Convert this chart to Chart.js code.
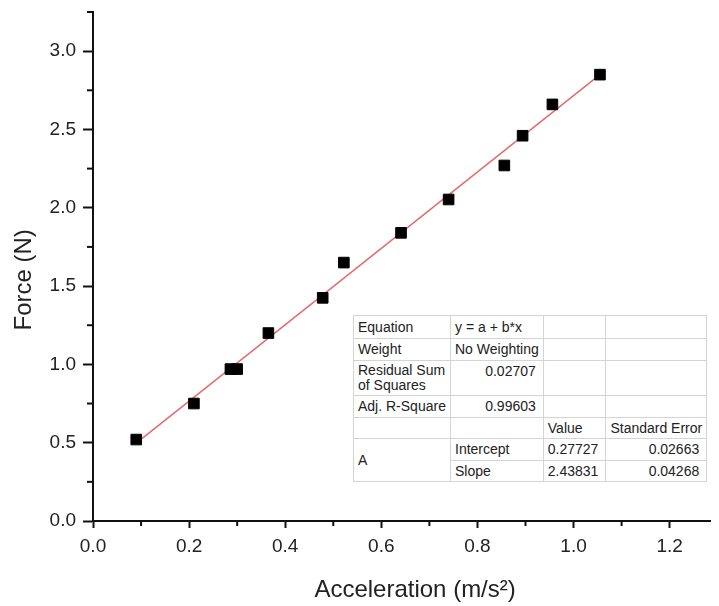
<!DOCTYPE html>
<html>
<head>
<meta charset="utf-8">
<script src="https://cdn.jsdelivr.net/npm/chart.js@4"></script>
<style>
  body { margin: 0; background: #fff; }
  #wrap { position: relative; width: 719px; height: 606px; }
  #fitTable {
    position: absolute; left: 353px; top: 315px;
    border-collapse: collapse; table-layout: fixed;
    font-family: "Liberation Sans", Arial, sans-serif; font-size: 14px; color: #222;
    border: 1.5px solid #999; background: #fff;
  }
  #fitTable td { border: 1px solid #d4d4d4; padding: 0 4px; white-space: nowrap; overflow: visible; line-height: 15px; }
  #fitTable td.num { text-align: right; padding-right: 7px; }
  #fitTable td.top { vertical-align: top; padding-top: 3px; }
</style>
</head>
<body>
<div id="wrap">
  <canvas id="grafico" width="719" height="606"></canvas>
  <table id="fitTable">
    <colgroup><col style="width:97px"><col style="width:92px"><col style="width:62px"><col style="width:96px"></colgroup>
    <tr style="height:23px"><td>Equation</td><td>y = a + b*x</td><td></td><td></td></tr>
    <tr style="height:22px"><td>Weight</td><td>No Weighting</td><td></td><td></td></tr>
    <tr style="height:35px"><td>Residual Sum<br>of Squares</td><td class="num top">0.02707</td><td></td><td></td></tr>
    <tr style="height:22px"><td>Adj. R-Square</td><td class="num">0.99603</td><td></td><td></td></tr>
    <tr style="height:21px"><td></td><td></td><td>Value</td><td>Standard Error</td></tr>
    <tr style="height:22px"><td rowspan="2">A</td><td>Intercept</td><td class="num">0.27727</td><td class="num">0.02663</td></tr>
    <tr style="height:21px"><td>Slope</td><td class="num">2.43831</td><td class="num">0.04268</td></tr>
  </table>
</div>
<script>
// pontos medidos
const aceleracao = [0.09, 0.21, 0.286, 0.30, 0.365, 0.478, 0.522, 0.641, 0.740, 0.856, 0.894, 0.956, 1.055];
const forca      = [0.52, 0.75, 0.97, 0.97, 1.20, 1.425, 1.65, 1.84, 2.053, 2.27, 2.46, 2.66, 2.85];

// reta ajustada (extremos)
const ajusteX = [0.09, 1.055];
const ajusteY = [0.497, 2.850];

// ticks menores
const xMinorTicks = [0.1, 0.3, 0.5, 0.7, 0.9, 1.1];
const yMinorTicks = [0.25, 0.75, 1.25, 1.75, 2.25, 2.75, 3.25];

const fonte = '"Liberation Sans", Arial, sans-serif';

const minorTicks = {
  id: 'minorTicks',
  afterDraw(chart) {
    const { ctx, chartArea, scales: { x, y } } = chart;
    ctx.save();
    ctx.strokeStyle = '#111';
    ctx.lineWidth = 2;
    xMinorTicks.forEach(v => {
      const px = x.getPixelForValue(v);
      ctx.beginPath();
      ctx.moveTo(px, chartArea.bottom);
      ctx.lineTo(px, chartArea.bottom + 5);
      ctx.stroke();
    });
    yMinorTicks.forEach(v => {
      const py = y.getPixelForValue(v);
      ctx.beginPath();
      ctx.moveTo(chartArea.left, py);
      ctx.lineTo(chartArea.left - 6, py);
      ctx.stroke();
    });
    ctx.restore();
  }
};

const ctx = document.getElementById('grafico').getContext('2d');

new Chart(ctx, {
  type: 'scatter',
  data: {
    datasets: [
      {
        label: 'Dados',
        data: aceleracao.map((x, i) => ({ x: x, y: forca[i] })),
        pointStyle: 'rect',
        pointRadius: 7.5,
        backgroundColor: '#000',
        borderColor: '#000',
        borderWidth: 1,
        order: 0
      },
      {
        label: 'Ajuste',
        type: 'line',
        data: ajusteX.map((x, i) => ({ x: x, y: ajusteY[i] })),
        borderColor: '#e36b6b',
        borderWidth: 1.5,
        pointRadius: 0,
        fill: false,
        order: 1
      }
    ]
  },
  options: {
    responsive: false,
    animation: false,
    layout: { padding: { top: 12, right: 1, left: 0, bottom: 0 } },
    plugins: {
      legend: { display: false },
      tooltip: { enabled: false }
    },
    scales: {
      x: {
        type: 'linear',
        min: 0,
        max: 1.285,
        afterFit(scale) { scale.height = 85; scale.paddingLeft = 0; scale.paddingRight = 0; },
        border: { display: true, width: 2, color: '#111' },
        grid: { drawOnChartArea: false, drawTicks: true, tickLength: 7, tickWidth: 2, tickColor: '#111' },
        ticks: {
          stepSize: 0.2,
          includeBounds: false,
          padding: 7,
          color: '#222',
          font: { family: fonte, size: 19 },
          callback: v => v.toFixed(1)
        },
        title: {
          display: true,
          text: '    Acceleration (m/s\u00B2)',
          color: '#222',
          font: { family: fonte, size: 24 },
          padding: { top: 0, bottom: 1 }
        }
      },
      y: {
        type: 'linear',
        min: 0,
        max: 3.25,
        afterFit(scale) { scale.width = 93; scale.paddingTop = 0; scale.paddingBottom = 0; },
        border: { display: true, width: 2, color: '#111' },
        grid: { drawOnChartArea: false, drawTicks: true, tickLength: 10, tickWidth: 2, tickColor: '#111' },
        ticks: {
          stepSize: 0.5,
          includeBounds: false,
          padding: 7,
          color: '#222',
          font: { family: fonte, size: 19 },
          callback: v => v.toFixed(1)
        },
        title: {
          display: true,
          text: 'Force (N)    ',
          color: '#222',
          font: { family: fonte, size: 24 },
          padding: { top: 10, bottom: 0 }
        }
      }
    }
  },
  plugins: [minorTicks]
});
</script>
</body>
</html>
